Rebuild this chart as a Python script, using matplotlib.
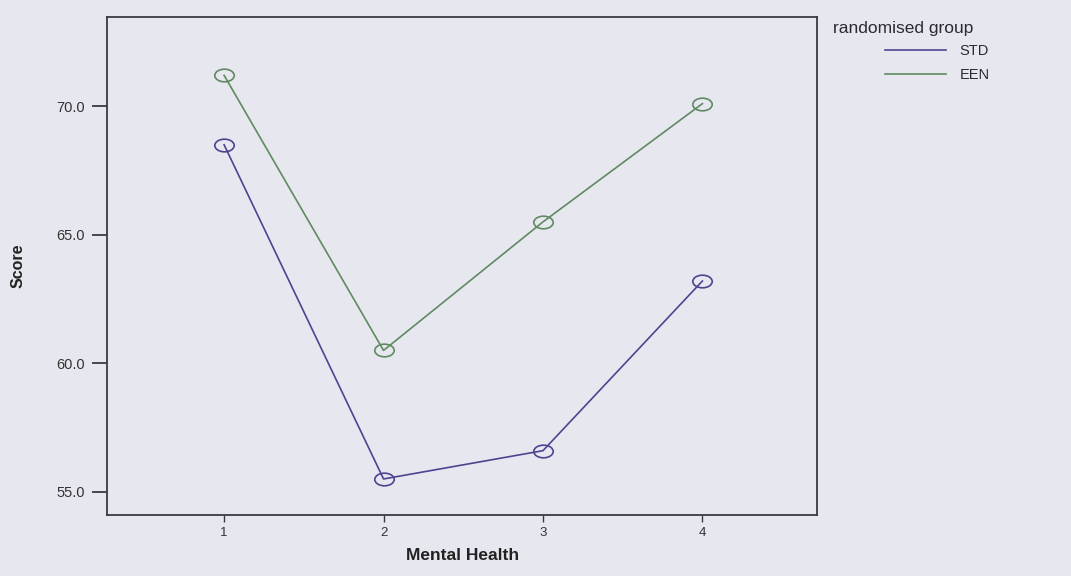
import matplotlib
matplotlib.use("Agg")
import matplotlib.pyplot as plt
from matplotlib.path import Path
from matplotlib.transforms import Affine2D

# mean scores per time point for each randomised group
timepoints = [1, 2, 3, 4]
std_scores = [68.5, 55.5, 56.6, 63.2]
een_scores = [71.2, 60.5, 65.5, 70.1]
group_names = ["STD", "EEN"]
y_ticks = [55.0, 60.0, 65.0, 70.0]

bg = "#e7e7ef"
std_color = "#4b4590"
een_color = "#5f8a62"
ink = "#2a2a30"

plt.rcParams['font.family'] = ['Liberation Sans', 'DejaVu Sans']

# flattened open circle used as point marker
ellipse = Path.unit_circle().transformed(Affine2D().scale(1.0, 0.65))

fig = plt.figure(figsize=(10.71, 5.76), dpi=100, facecolor=bg)
ax = fig.add_axes([0.100, 0.106, 0.663, 0.864], facecolor=bg)

marker_style = dict(marker=ellipse, markersize=14, markerfacecolor='none', markeredgewidth=1.2)
ax.plot(timepoints, std_scores, color=std_color, lw=1.2, **marker_style)
ax.plot(timepoints, een_scores, color=een_color, lw=1.2, **marker_style)

ax.set_xlim(0.266, 4.72)
ax.set_ylim(54.1, 73.46)
ax.set_xticks(timepoints)
ax.set_yticks(y_ticks)
ax.set_yticklabels([f"{v:.1f}" for v in y_ticks])

for side in ['top', 'right', 'left', 'bottom']:
    ax.spines[side].set_color('#3a3a40')
    ax.spines[side].set_linewidth(1.3)

ax.tick_params(axis='y', direction='out', length=11, width=1.3, color='#3a3a40',
               labelsize=10.5, labelcolor='#333333', pad=5)
ax.tick_params(axis='x', direction='out', length=5, width=1.0, color='#3a3a40',
               labelsize=9.5, labelcolor='#333333', pad=4)

ax.set_ylabel("Score", fontsize=11.5, fontweight='bold', color='#222222', labelpad=22)
ax.set_xlabel("Mental Health", fontsize=12.5, fontweight='bold', color='#222222', labelpad=6)

# legend title sits left of the indented entries
fig.text(833 / 1071, 1 - 29 / 576, "randomised group", fontsize=12.5, color=ink,
         ha='left', va='center')
handles = [plt.Line2D([], [], color=std_color, lw=1.2),
           plt.Line2D([], [], color=een_color, lw=1.2)]
fig.legend(handles, group_names, loc='upper left', bbox_to_anchor=(885 / 1071, 1 - 44 / 576),
           frameon=False, fontsize=10.5, borderpad=0, borderaxespad=0,
           handlelength=4.2, handletextpad=0.9, labelspacing=0.7, labelcolor=ink)

fig.savefig("out.png", dpi=100, facecolor=bg)
